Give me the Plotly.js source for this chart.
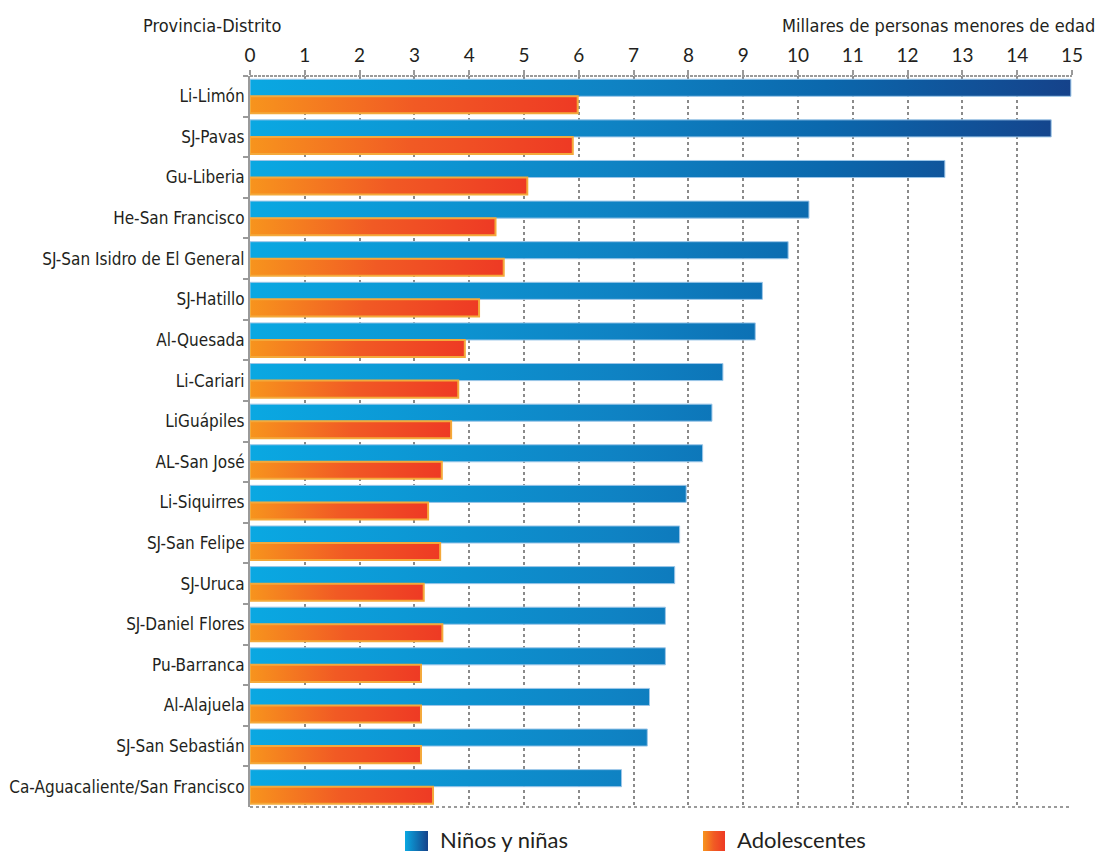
<!DOCTYPE html>
<html>
<head>
<meta charset="utf-8">
<script src="https://cdn.plot.ly/plotly-3.0.1.min.js"></script>
<style>
  html, body { margin: 0; padding: 0; background: #fff; }
  #chart { width: 1098px; height: 854px; }
</style>
</head>
<body>
<div id="chart"></div>
<script>
// ---- Data (thousands of minors) ----
const categories = [
  "Li-Limón", "SJ-Pavas", "Gu-Liberia", "He-San Francisco",
  "SJ-San Isidro de El General", "SJ-Hatillo", "Al-Quesada", "Li-Cariari",
  "LiGuápiles", "AL-San José", "Li-Siquirres", "SJ-San Felipe",
  "SJ-Uruca", "SJ-Daniel Flores", "Pu-Barranca", "Al-Alajuela",
  "SJ-San Sebastián", "Ca-Aguacaliente/San Francisco"
];
const ninos = [14.98, 14.62, 12.68, 10.20, 9.82, 9.35, 9.22, 8.63, 8.43, 8.26,
               7.96, 7.84, 7.75, 7.58, 7.58, 7.29, 7.25, 6.78];
const adolescentes = [5.98, 5.89, 5.06, 4.48, 4.63, 4.18, 3.92, 3.80, 3.67, 3.50,
                      3.25, 3.47, 3.17, 3.51, 3.12, 3.12, 3.12, 3.34];
const seriesNames = ["Niños y niñas", "Adolescentes"];
const xTicks = [0,1,2,3,4,5,6,7,8,9,10,11,12,13,14,15];

// ---- Layout geometry helpers ----
const W = 1098, H = 854;
const M = { l: 250, r: 26, t: 76, b: 47 };
const PW = W - M.l - M.r, PH = H - M.t - M.b;
const px = x => (x - M.l) / PW;
const py = y => (H - M.b - y) / PH;

const condensed = '"Liberation Sans Narrow", "DejaVu Sans Condensed", "Roboto Condensed", sans-serif';
const regular = 'Lato, "Open Sans", sans-serif';
const ink = '#231f20';

const traces = [
  {
    type: 'bar', orientation: 'h', name: seriesNames[0],
    y: categories, x: ninos,
    marker: { color: '#0e7fc1', line: { color: '#9cc6e8', width: 1 } },
    showlegend: false
  },
  {
    type: 'bar', orientation: 'h', name: seriesNames[1],
    y: categories, x: adolescentes,
    marker: { color: '#f26522', line: { color: '#f4a93a', width: 2 } },
    showlegend: false
  }
];

const layout = {
  width: W, height: H,
  margin: M,
  paper_bgcolor: '#fff', plot_bgcolor: '#fff',
  barmode: 'group', bargap: 0.16, bargroupgap: 0,
  hovermode: false,
  font: { family: condensed, color: ink, size: 17 },
  xaxis: {
    side: 'top', range: [0, 15], tickvals: xTicks, ticktext: xTicks.map(String),
    showgrid: true, gridcolor: '#8a8a8a', gridwidth: 2, griddash: 'dot',
    zeroline: false, showline: false,
    ticks: 'outside', ticklen: 5, tickwidth: 2, tickcolor: '#9a9a9a',
    tickfont: { family: regular, size: 19, color: ink },
    fixedrange: true
  },
  yaxis: {
    type: 'category', categoryorder: 'array', categoryarray: categories,
    autorange: 'reversed',
    showgrid: false, zeroline: false,
    showline: true, linecolor: '#9a9a9a', linewidth: 2,
    ticks: 'outside', tickson: 'boundaries', ticklen: 5, tickwidth: 2, tickcolor: '#9a9a9a',
    tickfont: { family: condensed, size: 17, color: ink },
    fixedrange: true
  },
  shapes: [
    { type: 'line', xref: 'paper', yref: 'paper', x0: 0, x1: 1, y0: 1, y1: 1,
      line: { color: '#9a9a9a', width: 2, dash: '3px,1px' }, layer: 'above' },
    { type: 'line', xref: 'paper', yref: 'paper', x0: 0, x1: 1, y0: 0, y1: 0,
      line: { color: '#9a9a9a', width: 2, dash: 'dot' }, layer: 'above' },
    { type: 'rect', xref: 'paper', yref: 'paper', x0: px(405), x1: px(428), y0: py(851), y1: py(831),
      fillcolor: '#0e7fc1', line: { width: 0 }, layer: 'above' },
    { type: 'rect', xref: 'paper', yref: 'paper', x0: px(703), x1: px(725), y0: py(851), y1: py(831),
      fillcolor: '#f26522', line: { width: 0 }, layer: 'above' }
  ],
  annotations: [
    { xref: 'paper', yref: 'paper', x: px(283), y: py(26), xanchor: 'right', yanchor: 'middle',
      text: 'Provincia-Distrito', showarrow: false, font: { family: condensed, size: 18, color: ink } },
    { xref: 'paper', yref: 'paper', x: px(1097), y: py(26), xanchor: 'right', yanchor: 'middle',
      text: 'Millares de personas menores de edad', showarrow: false, font: { family: condensed, size: 18, color: ink } },
    { xref: 'paper', yref: 'paper', x: px(438), y: py(839), xanchor: 'left', yanchor: 'middle',
      text: seriesNames[0], showarrow: false, font: { family: regular, size: 22, color: ink } },
    { xref: 'paper', yref: 'paper', x: px(735), y: py(839), xanchor: 'left', yanchor: 'middle',
      text: seriesNames[1], showarrow: false, font: { family: regular, size: 22, color: ink } }
  ]
};

const gd = document.getElementById('chart');
Plotly.newPlot(gd, traces, layout, { displayModeBar: false, staticPlot: true }).then(() => {
  const svg = gd.querySelector('svg.main-svg');
  const NS = 'http://www.w3.org/2000/svg';
  const defs = svg.querySelector('defs') || svg.insertBefore(document.createElementNS(NS, 'defs'), svg.firstChild);
  const plotW = gd._fullLayout._size.w;
  function grad(id, stops, attrs) {
    const g = document.createElementNS(NS, 'linearGradient');
    g.setAttribute('id', id);
    for (const k in attrs) g.setAttribute(k, attrs[k]);
    stops.forEach(([o, c]) => {
      const s = document.createElementNS(NS, 'stop');
      s.setAttribute('offset', o);
      s.setAttribute('stop-color', c);
      g.appendChild(s);
    });
    defs.appendChild(g);
  }
  const blueStops = [[0, '#0aa8e2'], [0.45, '#0f82c3'], [0.7, '#0b68ad'], [1, '#15428a']];
  grad('gBlue', blueStops, { gradientUnits: 'userSpaceOnUse', x1: 0, y1: 0, x2: plotW, y2: 0 });
  grad('gBlueBox', [[0, '#0aa8e2'], [1, '#15428a']], { x1: 0, y1: 0, x2: 1, y2: 0 });
  grad('gOrange', [[0, '#f7941d'], [0.5, '#f15a24'], [1, '#ee3a24']], { x1: 0, y1: 0, x2: 1, y2: 0 });

  const bars = gd.querySelectorAll('.barlayer .trace.bars');
  bars.forEach((tr, i) => {
    tr.querySelectorAll('.point path').forEach(p => {
      p.style.fill = i === 0 ? 'url(#gBlue)' : 'url(#gOrange)';
    });
  });
  const b = gd.querySelector('.shapelayer path[data-index="2"]');
  const o = gd.querySelector('.shapelayer path[data-index="3"]');
  if (b) b.style.fill = 'url(#gBlueBox)';
  if (o) o.style.fill = 'url(#gOrange)';
});
</script>
</body>
</html>
